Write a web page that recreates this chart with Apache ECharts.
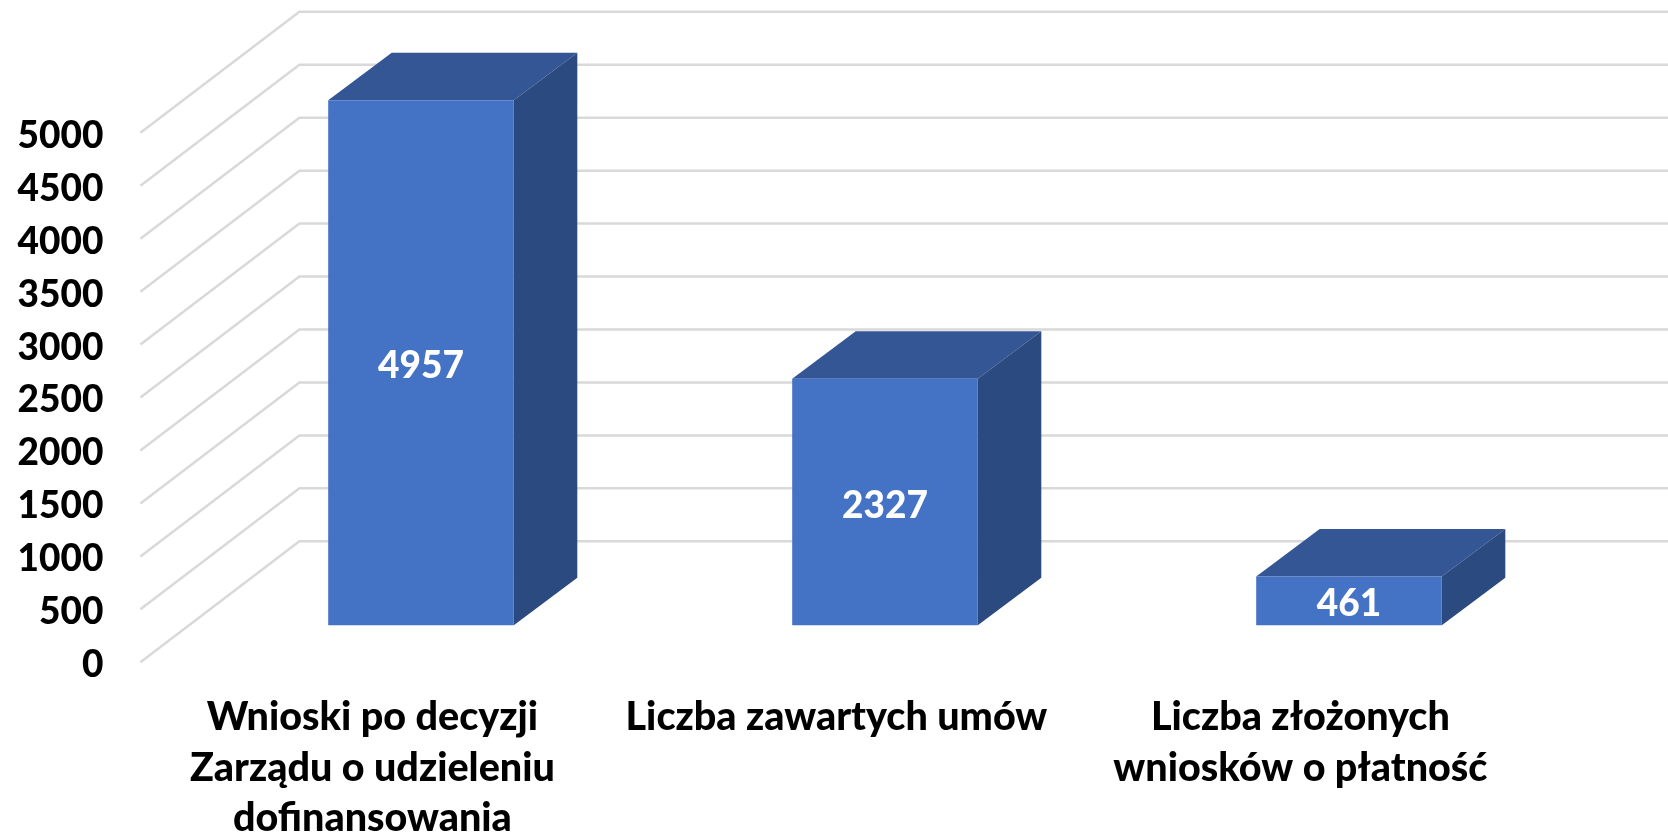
<!DOCTYPE html>
<html>
<head>
<meta charset="utf-8">
<title>Wnioski</title>
<style>
  html, body { margin: 0; padding: 0; background: #fff; }
  #chart { width: 1668px; height: 836px; }
</style>
<script src="https://cdn.jsdelivr.net/npm/echarts@6/dist/echarts.min.js"></script>
</head>
<body>
<div id="chart"></div>
<script>
const categories = [
  'Wnioski po decyzji\nZarządu o udzieleniu\ndofinansowania',
  'Liczba zawartych umów',
  'Liczba złożonych\nwniosków o płatność'
]
const values = [4957, 2327, 461]
const yTicks = [0, 500, 1000, 1500, 2000, 2500, 3000, 3500, 4000, 4500, 5000]

// the grid is the front edge of the floor, the rest is shifted from it
const wallShift = [159, -121]
const barShift = [48.6, -37]
const barDepth = [63.5, -47.6]

const chart = echarts.init(document.getElementById('chart'), null, { renderer: 'canvas' })

const renderWall = (params, api) => {
  const start = api.coord([0, api.value(0)])
  const size = api.size([1, 0])
  const left = start[0] - size[0] / 2
  const right = left + size[0] * 3
  const y = start[1]
  return {
    type: 'polyline',
    shape: {
      points: [
        [left, y],
        [left + wallShift[0], y + wallShift[1]],
        [right + wallShift[0], y + wallShift[1]]
      ]
    },
    style: { stroke: '#d9d9d9', lineWidth: 2.5, fill: null }
  }
}

const renderBar = (params, api) => {
  const top = api.coord([api.value(0), api.value(1)])
  const base = api.coord([api.value(0), 0])
  const half = api.size([1, 0])[0] * 0.2
  const x0 = top[0] - half + barShift[0]
  const x1 = top[0] + half + barShift[0]
  const yt = top[1] + barShift[1]
  const yb = base[1] + barShift[1]
  const dx = barDepth[0]
  const dy = barDepth[1]
  return {
    type: 'group',
    children: [
      {
        type: 'polygon',
        shape: { points: [[x0, yt], [x1, yt], [x1 + dx, yt + dy], [x0 + dx, yt + dy]] },
        style: { fill: '#345694' }
      },
      {
        type: 'polygon',
        shape: { points: [[x1, yt], [x1 + dx, yt + dy], [x1 + dx, yb + dy], [x1, yb]] },
        style: { fill: '#2b4a80' }
      },
      {
        type: 'polygon',
        shape: { points: [[x0, yt], [x1, yt], [x1, yb], [x0, yb]] },
        style: { fill: '#4472c4' }
      },
      {
        type: 'text',
        style: {
          x: (x0 + x1) / 2,
          y: (yt + yb) / 2 + 3.5,
          text: String(api.value(1)),
          fill: '#fff',
          font: '900 37px Lato',
          align: 'center',
          verticalAlign: 'middle'
        }
      }
    ]
  }
}

chart.setOption({
  animation: false,
  grid: { left: 140.4, width: 1392, top: 132.8, height: 529.5, outerBoundsMode: 'none' },
  xAxis: {
    type: 'category',
    data: categories,
    axisLine: { show: false },
    axisTick: { show: false },
    axisLabel: {
      interval: 0,
      margin: 30,
      color: '#000',
      fontFamily: 'Lato',
      fontWeight: 900,
      fontSize: 39.5,
      lineHeight: 50.5,
      align: 'center'
    }
  },
  yAxis: {
    type: 'value',
    min: 0,
    max: 5000,
    interval: 500,
    splitLine: { show: false },
    axisLine: { show: false },
    axisTick: { show: false },
    axisLabel: {
      margin: 37,
      formatter: v => `{t|${v}}`,
      rich: {
        t: {
          color: '#000',
          fontFamily: 'Lato',
          fontWeight: 900,
          fontSize: 37,
          padding: [6, 0, 0, 0]
        }
      }
    }
  },
  series: [
    {
      type: 'custom',
      clip: false,
      silent: true,
      z: 1,
      renderItem: renderWall,
      encode: { y: 0 },
      data: yTicks.map(v => [v])
    },
    {
      type: 'custom',
      clip: false,
      z: 2,
      renderItem: renderBar,
      encode: { x: 0, y: 1 },
      data: values.map((v, i) => [i, v])
    }
  ]
})
</script>
</body>
</html>
